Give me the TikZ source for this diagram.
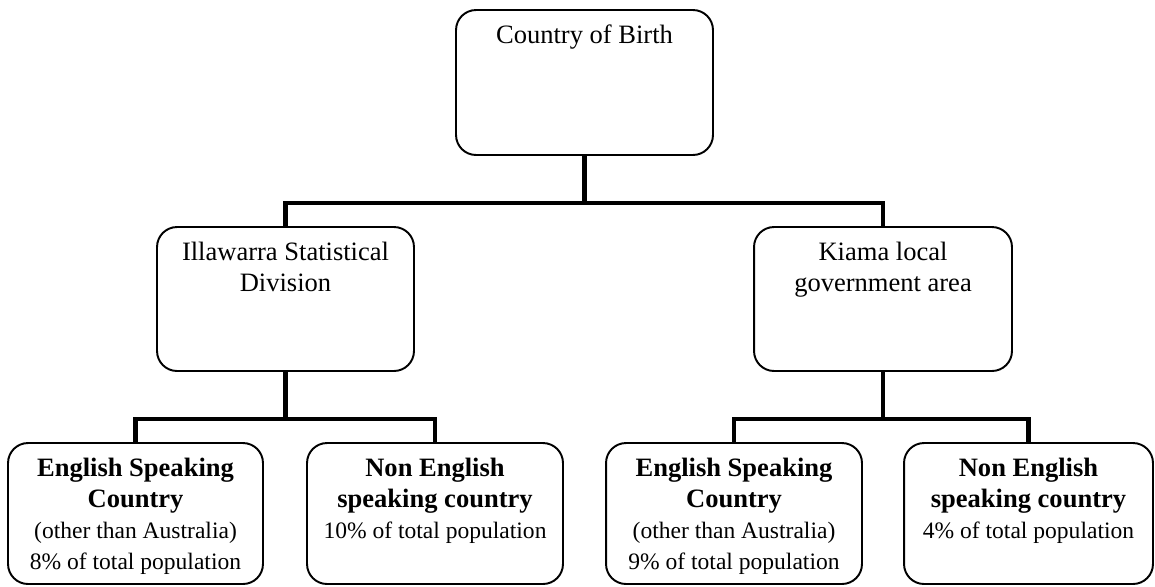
\documentclass[tikz,border=0pt]{standalone}
\usepackage{fontspec}
\setmainfont{Liberation Serif}
\usepackage{tikz}
\usetikzlibrary{calc}
\tikzset{>=latex}
\tikzset{
  box/.style = {draw, line width = 1.1pt, rounded corners = 0.4cm, inner sep = 0pt,
    font = \fontsize{15.1}{17.6}\selectfont},
  link/.style = {line width = 2.8pt}
}
\newcommand{\boxlines}[3]{\parbox[c][#1][t]{#2}{\centering\vspace*{7pt}\strut#3}}
\newcommand{\smalltxt}{\fontsize{13.4}{17.6}\selectfont}

\begin{document}
\begin{tikzpicture}[x = 0.02cm, y = -0.02cm]
\useasboundingbox (0,0) rectangle (1155,586);
\node[box] (birth) at (584.5, 82.5) {\boxlines{2.9cm}{5.14cm}{Country of Birth}};
\node[box] (illa) at (285.5, 299) {\boxlines{2.88cm}{5.14cm}{Illawarra Statistical\\Division}};
\node[box] (kiama) at (883, 299) {\boxlines{2.88cm}{5.16cm}{Kiama local\\government area}};
\node[box] (eng1) at (135.5, 513.5) {\boxlines{2.82cm}{5.1cm}{\textbf{English Speaking}\\\textbf{Country}\\{\smalltxt (other than Australia)}\\{\smalltxt 8\% of total population}}};
\node[box] (non1) at (435, 513.5) {\boxlines{2.82cm}{5.12cm}{\textbf{Non English}\\\textbf{speaking country}\\{\smalltxt 10\% of total population}}};
\node[box] (eng2) at (734, 513.5) {\boxlines{2.82cm}{5.12cm}{\textbf{English Speaking}\\\textbf{Country}\\{\smalltxt (other than Australia)}\\{\smalltxt 9\% of total population}}};
\node[box] (non2) at (1028.5, 513.5) {\boxlines{2.82cm}{4.98cm}{\textbf{Non English}\\\textbf{speaking country}\\{\smalltxt 4\% of total population}}};
\coordinate (j0) at (584.5, 203);
\coordinate (j1) at (285.5, 419);
\coordinate (j2) at (883, 419);
\draw[link] (birth.south) -- (j0);
\draw[link] (illa.north) |- (j0) -| (kiama.north);
\foreach \up/\jn/\a/\b in {illa/j1/eng1/non1, kiama/j2/eng2/non2}{
\draw[link] (\up.south) -- (\jn);
\draw[link] (\a.north) |- (\jn) -| (\b.north);
}
\end{tikzpicture}
\end{document}
